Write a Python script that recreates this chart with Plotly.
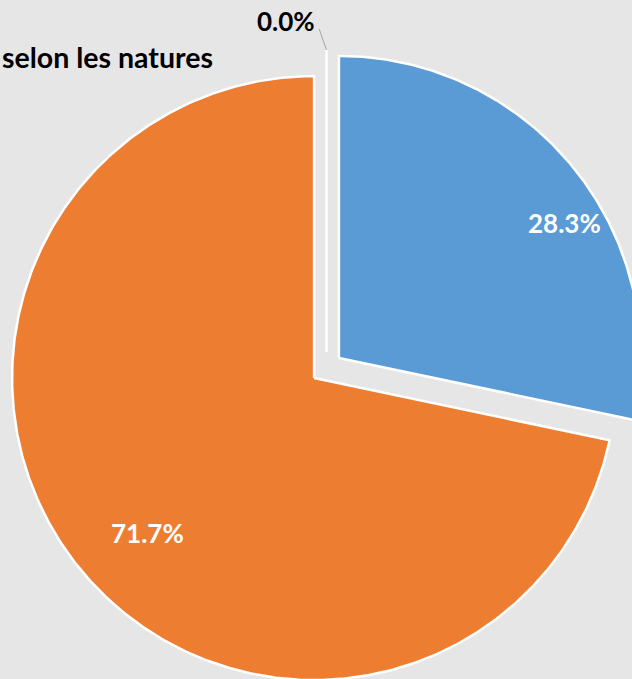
import numpy as np
import plotly.graph_objects as go

# ---- data ----
categories = ["Nature 1", "Nature 2", "Nature 3"]
values = [28.3, 71.7, 0.0]
title_text = "selon les natures"

# ---- style ----
colors = ["#5B9BD5", "#ED7D31", "#A5A5A5"]
label_colors = ["#FFFFFF", "#FFFFFF", "#000000"]
BG = "#E7E6E6"
FONT = "Lato"
PULL = 0.053          # explosion of every slice (fraction of radius)
LABEL_R = [0.871, 0.752, 1.104]
LABEL_DTHETA = [8.3, -3.8, -7.0]
SCALE = 302.0         # pixels per radius unit
CX_PX, CY_PX = 326.5, 368.0

total = sum(values)
fig = go.Figure()

cum = 0.0
annotations = []
for name, v, col, lc, lr, dth in zip(categories, values, colors, label_colors, LABEL_R, LABEL_DTHETA):
    a0 = cum / total * 360.0
    a1 = (cum + v) / total * 360.0
    cum += v
    mid = (a0 + a1) / 2.0
    if v == 0:
        a0 = a1 = mid = 360.0
    m = np.radians(mid)
    cx, cy = PULL * np.sin(m), PULL * np.cos(m)
    t = np.radians(np.linspace(a0, a1, max(2, int(abs(a1 - a0) * 2) + 2)))
    xs = np.concatenate([[cx], cx + np.sin(t), [cx]])
    ys = np.concatenate([[cy], cy + np.cos(t), [cy]])
    fig.add_trace(go.Scatter(
        x=xs, y=ys, mode="lines", fill="toself" if v > 0 else None,
        fillcolor=col, line=dict(color="white", width=2.5),
        name=name, hoverinfo="skip", showlegend=False))
    la = np.radians(mid + dth)
    pct = v / total * 100.0
    annotations.append(dict(
        x=cx + lr * np.sin(la), y=cy + lr * np.cos(la),
        xref="x", yref="y", text=f"<b>{pct:.1f}%</b>", showarrow=False,
        font=dict(family=FONT, size=26, color=lc)))
    if v == 0:
        # leader line
        le = np.radians(mid - 1.3)
        fig.add_trace(go.Scatter(
            x=[cx, cx + 1.07 * np.sin(le)], y=[cy + 1.0, cy + 1.07 * np.cos(le)],
            mode="lines", line=dict(color="#A6A6A6", width=1),
            hoverinfo="skip", showlegend=False))

annotations.append(dict(
    x=0, y=1 - 57 / 679, xref="paper", yref="paper", text=f"<b>{title_text}</b>",
    showarrow=False, xanchor="left", yanchor="middle",
    font=dict(family=FONT, size=28.5, color="#000000")))

fig.update_layout(
    width=632, height=679,
    margin=dict(l=0, r=0, t=0, b=0),
    paper_bgcolor=BG, plot_bgcolor=BG,
    xaxis=dict(range=[-CX_PX / SCALE, (632 - CX_PX) / SCALE], visible=False, fixedrange=True),
    yaxis=dict(range=[-(679 - CY_PX) / SCALE, CY_PX / SCALE], visible=False, fixedrange=True),
    annotations=annotations,
    showlegend=False,
)

fig.write_html("out.html", config={"displayModeBar": False},
               post_script="document.body.style.margin='0';document.body.style.overflow='hidden';")
